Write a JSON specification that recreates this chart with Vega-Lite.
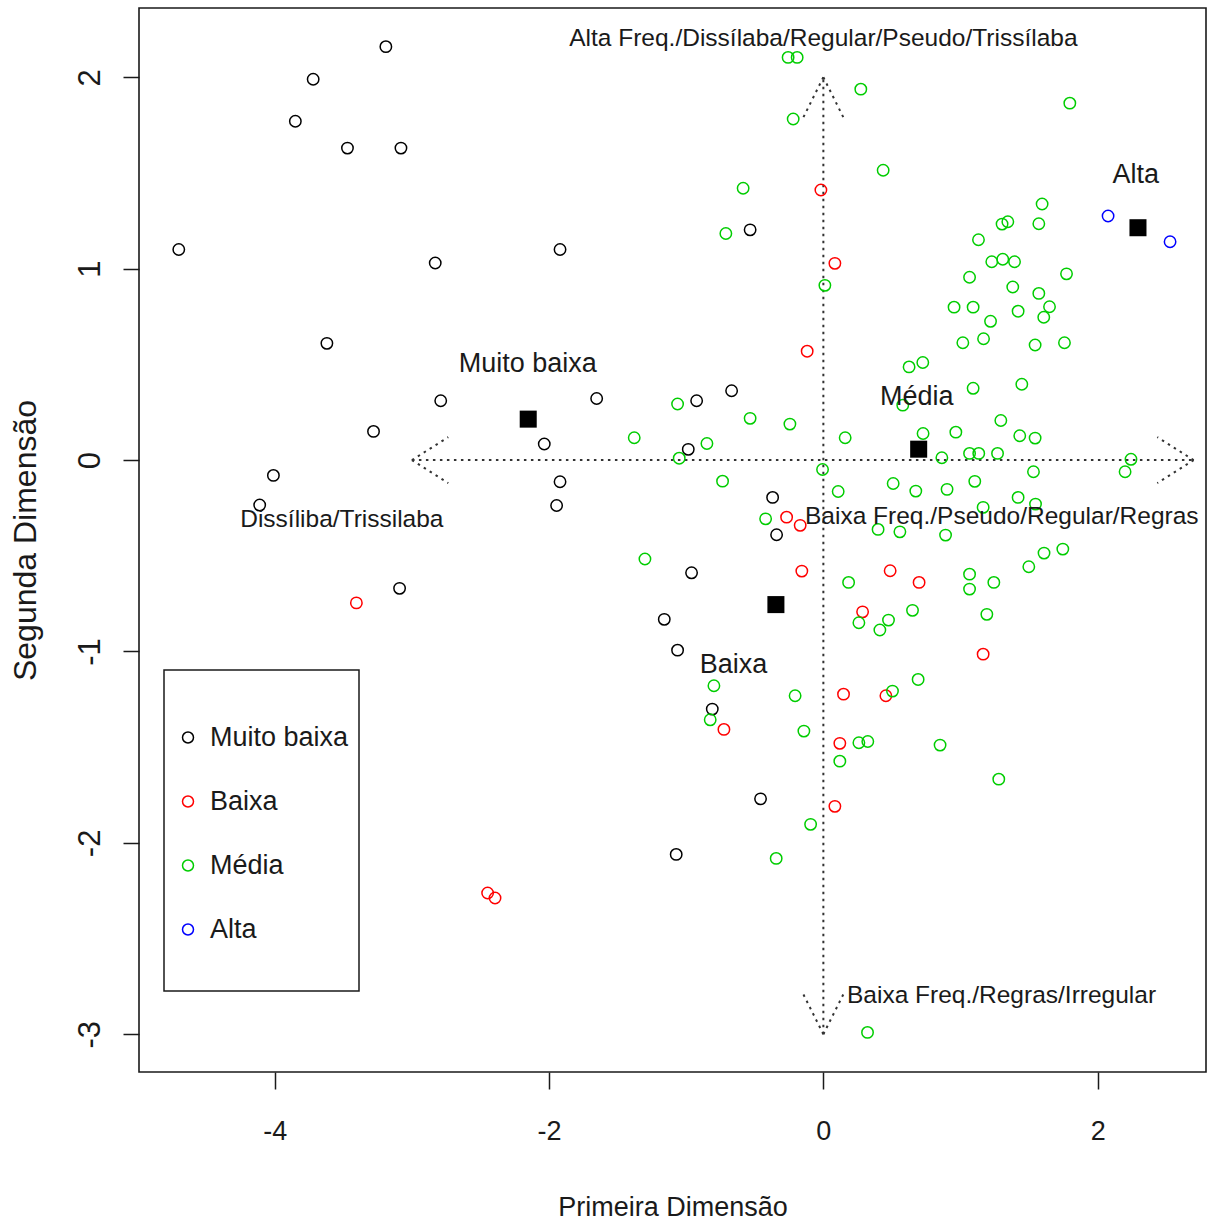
{
  "$schema": "https://vega.github.io/schema/vega-lite/v6.json",
  "width": 1067,
  "height": 1064,
  "autosize": {"type": "none"},
  "padding": {"left": 139, "top": 8, "right": 5, "bottom": 150},
  "background": "white",
  "config": {
    "font": "Liberation Sans",
    "view": {"stroke": "#1a1a1a", "strokeWidth": 1.6},
    "axis": {
      "grid": false,
      "domain": false,
      "tickSize": 17,
      "tickWidth": 1.5,
      "tickColor": "#1a1a1a",
      "labelColor": "#1a1a1a",
      "titleColor": "#1a1a1a",
      "titleFontWeight": "normal",
      "labelFlush": false,
      "labelOverlap": false,
      "labelExpr": "toString(datum.value)"
    },
    "legend": {"strokeWidth": 1.5}
  },
  "datasets": {
    "setas": [
      {"x": -3, "y": 0, "x2": 2.7, "y2": 0},
      {"x": 0, "y": -3, "x2": 0, "y2": 2},
      {"x": -3, "y": 0, "x2": -2.735, "y2": 0.12},
      {"x": -3, "y": 0, "x2": -2.735, "y2": -0.12},
      {"x": 2.7, "y": 0, "x2": 2.435, "y2": 0.12},
      {"x": 2.7, "y": 0, "x2": 2.435, "y2": -0.12},
      {"x": 0, "y": 2, "x2": -0.15, "y2": 1.785},
      {"x": 0, "y": 2, "x2": 0.15, "y2": 1.785},
      {"x": 0, "y": -3, "x2": -0.15, "y2": -2.785},
      {"x": 0, "y": -3, "x2": 0.15, "y2": -2.785}
    ],
    "pontos": [
      {"x": -3.19, "y": 2.16, "grupo": "Muito baixa"},
      {"x": -3.72, "y": 1.99, "grupo": "Muito baixa"},
      {"x": -3.85, "y": 1.77, "grupo": "Muito baixa"},
      {"x": -3.47, "y": 1.63, "grupo": "Muito baixa"},
      {"x": -3.08, "y": 1.63, "grupo": "Muito baixa"},
      {"x": -4.70, "y": 1.10, "grupo": "Muito baixa"},
      {"x": -2.83, "y": 1.03, "grupo": "Muito baixa"},
      {"x": -1.92, "y": 1.10, "grupo": "Muito baixa"},
      {"x": -3.62, "y": 0.61, "grupo": "Muito baixa"},
      {"x": -2.79, "y": 0.31, "grupo": "Muito baixa"},
      {"x": -3.28, "y": 0.15, "grupo": "Muito baixa"},
      {"x": -4.01, "y": -0.08, "grupo": "Muito baixa"},
      {"x": -4.11, "y": -0.235, "grupo": "Muito baixa"},
      {"x": -2.035, "y": 0.084, "grupo": "Muito baixa"},
      {"x": -1.92, "y": -0.113, "grupo": "Muito baixa"},
      {"x": -1.945, "y": -0.237, "grupo": "Muito baixa"},
      {"x": -3.09, "y": -0.67, "grupo": "Muito baixa"},
      {"x": -1.653, "y": 0.322, "grupo": "Muito baixa"},
      {"x": -0.924, "y": 0.31, "grupo": "Muito baixa"},
      {"x": -0.669, "y": 0.362, "grupo": "Muito baixa"},
      {"x": -0.985, "y": 0.056, "grupo": "Muito baixa"},
      {"x": -0.534, "y": 1.203, "grupo": "Muito baixa"},
      {"x": -0.37, "y": -0.195, "grupo": "Muito baixa"},
      {"x": -0.341, "y": -0.39, "grupo": "Muito baixa"},
      {"x": -0.961, "y": -0.589, "grupo": "Muito baixa"},
      {"x": -1.16, "y": -0.832, "grupo": "Muito baixa"},
      {"x": -1.063, "y": -0.993, "grupo": "Muito baixa"},
      {"x": -0.81, "y": -1.301, "grupo": "Muito baixa"},
      {"x": -0.458, "y": -1.77, "grupo": "Muito baixa"},
      {"x": -1.073, "y": -2.06, "grupo": "Muito baixa"},
      {"x": -0.018, "y": 1.411, "grupo": "Baixa"},
      {"x": 0.084, "y": 1.028, "grupo": "Baixa"},
      {"x": -0.118, "y": 0.569, "grupo": "Baixa"},
      {"x": -0.268, "y": -0.298, "grupo": "Baixa"},
      {"x": -0.169, "y": -0.341, "grupo": "Baixa"},
      {"x": -0.157, "y": -0.58, "grupo": "Baixa"},
      {"x": 0.487, "y": -0.578, "grupo": "Baixa"},
      {"x": 0.698, "y": -0.639, "grupo": "Baixa"},
      {"x": 0.286, "y": -0.793, "grupo": "Baixa"},
      {"x": 1.165, "y": -1.014, "grupo": "Baixa"},
      {"x": 0.456, "y": -1.231, "grupo": "Baixa"},
      {"x": 0.147, "y": -1.223, "grupo": "Baixa"},
      {"x": -0.725, "y": -1.407, "grupo": "Baixa"},
      {"x": 0.12, "y": -1.48, "grupo": "Baixa"},
      {"x": 0.084, "y": -1.809, "grupo": "Baixa"},
      {"x": -3.405, "y": -0.746, "grupo": "Baixa"},
      {"x": -2.448, "y": -2.262, "grupo": "Baixa"},
      {"x": -2.394, "y": -2.288, "grupo": "Baixa"},
      {"x": 2.076, "y": 1.275, "grupo": "Alta"},
      {"x": 2.528, "y": 1.141, "grupo": "Alta"},
      {"x": -0.257, "y": 2.104, "grupo": "Média"},
      {"x": -0.191, "y": 2.104, "grupo": "Média"},
      {"x": 0.273, "y": 1.938, "grupo": "Média"},
      {"x": -0.22, "y": 1.782, "grupo": "Média"},
      {"x": 0.436, "y": 1.514, "grupo": "Média"},
      {"x": -0.585, "y": 1.42, "grupo": "Média"},
      {"x": -0.711, "y": 1.184, "grupo": "Média"},
      {"x": 0.011, "y": 0.913, "grupo": "Média"},
      {"x": 1.797, "y": 1.865, "grupo": "Média"},
      {"x": 1.595, "y": 1.338, "grupo": "Média"},
      {"x": 1.303, "y": 1.233, "grupo": "Média"},
      {"x": 1.345, "y": 1.245, "grupo": "Média"},
      {"x": 1.571, "y": 1.235, "grupo": "Média"},
      {"x": 1.131, "y": 1.151, "grupo": "Média"},
      {"x": 1.228, "y": 1.036, "grupo": "Média"},
      {"x": 1.308, "y": 1.049, "grupo": "Média"},
      {"x": 1.394, "y": 1.036, "grupo": "Média"},
      {"x": 1.773, "y": 0.973, "grupo": "Média"},
      {"x": 1.066, "y": 0.955, "grupo": "Média"},
      {"x": 1.381, "y": 0.904, "grupo": "Média"},
      {"x": 1.571, "y": 0.871, "grupo": "Média"},
      {"x": 0.953, "y": 0.799, "grupo": "Média"},
      {"x": 1.092, "y": 0.799, "grupo": "Média"},
      {"x": 1.42, "y": 0.778, "grupo": "Média"},
      {"x": 1.649, "y": 0.801, "grupo": "Média"},
      {"x": 1.607, "y": 0.746, "grupo": "Média"},
      {"x": 1.219, "y": 0.725, "grupo": "Média"},
      {"x": 1.017, "y": 0.613, "grupo": "Média"},
      {"x": 1.168, "y": 0.634, "grupo": "Média"},
      {"x": 1.544, "y": 0.601, "grupo": "Média"},
      {"x": 1.758, "y": 0.613, "grupo": "Média"},
      {"x": 0.625, "y": 0.487, "grupo": "Média"},
      {"x": 0.725, "y": 0.51, "grupo": "Média"},
      {"x": 1.092, "y": 0.375, "grupo": "Média"},
      {"x": 1.447, "y": 0.396, "grupo": "Média"},
      {"x": 1.294, "y": 0.207, "grupo": "Média"},
      {"x": 0.727, "y": 0.139, "grupo": "Média"},
      {"x": 0.966, "y": 0.146, "grupo": "Média"},
      {"x": 1.432, "y": 0.127, "grupo": "Média"},
      {"x": 1.544, "y": 0.115, "grupo": "Média"},
      {"x": 0.864, "y": 0.012, "grupo": "Média"},
      {"x": 1.066, "y": 0.035, "grupo": "Média"},
      {"x": 1.133, "y": 0.035, "grupo": "Média"},
      {"x": 1.27, "y": 0.035, "grupo": "Média"},
      {"x": 2.243, "y": 0.004, "grupo": "Média"},
      {"x": 2.2, "y": -0.061, "grupo": "Média"},
      {"x": 1.532, "y": -0.061, "grupo": "Média"},
      {"x": 1.104, "y": -0.111, "grupo": "Média"},
      {"x": 0.674, "y": -0.162, "grupo": "Média"},
      {"x": 0.902, "y": -0.153, "grupo": "Média"},
      {"x": 1.42, "y": -0.195, "grupo": "Média"},
      {"x": 1.547, "y": -0.23, "grupo": "Média"},
      {"x": 1.165, "y": -0.247, "grupo": "Média"},
      {"x": 0.558, "y": -0.375, "grupo": "Média"},
      {"x": 0.891, "y": -0.392, "grupo": "Média"},
      {"x": 1.746, "y": -0.465, "grupo": "Média"},
      {"x": 1.609, "y": -0.486, "grupo": "Média"},
      {"x": 1.498, "y": -0.557, "grupo": "Média"},
      {"x": 1.066, "y": -0.596, "grupo": "Média"},
      {"x": 1.066, "y": -0.674, "grupo": "Média"},
      {"x": 1.243, "y": -0.639, "grupo": "Média"},
      {"x": 0.65, "y": -0.785, "grupo": "Média"},
      {"x": 1.192, "y": -0.806, "grupo": "Média"},
      {"x": -1.063, "y": 0.293, "grupo": "Média"},
      {"x": -1.379, "y": 0.117, "grupo": "Média"},
      {"x": -0.534, "y": 0.218, "grupo": "Média"},
      {"x": -0.244, "y": 0.188, "grupo": "Média"},
      {"x": 0.159, "y": 0.117, "grupo": "Média"},
      {"x": -0.849, "y": 0.087, "grupo": "Média"},
      {"x": -1.051, "y": 0.01, "grupo": "Média"},
      {"x": -0.006, "y": -0.049, "grupo": "Média"},
      {"x": -0.735, "y": -0.11, "grupo": "Média"},
      {"x": 0.108, "y": -0.164, "grupo": "Média"},
      {"x": 0.509, "y": -0.122, "grupo": "Média"},
      {"x": -0.421, "y": -0.307, "grupo": "Média"},
      {"x": 0.399, "y": -0.362, "grupo": "Média"},
      {"x": -1.301, "y": -0.517, "grupo": "Média"},
      {"x": 0.184, "y": -0.639, "grupo": "Média"},
      {"x": 0.259, "y": -0.85, "grupo": "Média"},
      {"x": 0.475, "y": -0.836, "grupo": "Média"},
      {"x": 0.412, "y": -0.888, "grupo": "Média"},
      {"x": 0.691, "y": -1.146, "grupo": "Média"},
      {"x": 0.504, "y": -1.207, "grupo": "Média"},
      {"x": -0.206, "y": -1.231, "grupo": "Média"},
      {"x": -0.798, "y": -1.179, "grupo": "Média"},
      {"x": -0.825, "y": -1.357, "grupo": "Média"},
      {"x": -0.142, "y": -1.416, "grupo": "Média"},
      {"x": 0.259, "y": -1.477, "grupo": "Média"},
      {"x": 0.324, "y": -1.47, "grupo": "Média"},
      {"x": 0.851, "y": -1.489, "grupo": "Média"},
      {"x": 0.12, "y": -1.573, "grupo": "Média"},
      {"x": 1.279, "y": -1.667, "grupo": "Média"},
      {"x": -0.093, "y": -1.903, "grupo": "Média"},
      {"x": -0.344, "y": -2.081, "grupo": "Média"},
      {"x": 0.322, "y": -2.99, "grupo": "Média"},
      {"x": 0.579, "y": 0.287, "grupo": "Média"}
    ],
    "centroides": [
      {"grupo": "Muito baixa", "x": -2.152, "y": 0.214},
      {"grupo": "Baixa", "x": -0.346, "y": -0.755},
      {"grupo": "Média", "x": 0.695, "y": 0.057},
      {"grupo": "Alta", "x": 2.294, "y": 1.214}
    ],
    "grupos": [
      {"rotulo": "Alta", "x": 2.278, "y": 1.49},
      {"rotulo": "Muito baixa", "x": -2.156, "y": 0.5},
      {"rotulo": "Média", "x": 0.681, "y": 0.329},
      {"rotulo": "Baixa", "x": -0.655, "y": -1.071}
    ],
    "polos": [
      {"rotulo": "Alta Freq./Dissílaba/Regular/Pseudo/Trissílaba", "x": 0.0, "y": 2.2},
      {"rotulo": "Dissíliba/Trissilaba", "x": -3.511, "y": -0.313},
      {"rotulo": "Baixa Freq./Pseudo/Regular/Regras", "x": 1.301, "y": -0.298},
      {"rotulo": "Baixa Freq./Regras/Irregular", "x": 1.299, "y": -2.8}
    ]
  },
  "encoding": {
    "x": {
      "field": "x",
      "type": "quantitative",
      "scale": {"domain": [-4.99, 2.79], "nice": false, "zero": false},
      "axis": {
        "values": [-4, -2, 0, 2],
        "title": "Primeira Dimensão",
        "labelFontSize": 27,
        "labelPadding": 29,
        "titleFontSize": 27,
        "titlePadding": 50
      }
    },
    "y": {
      "field": "y",
      "type": "quantitative",
      "scale": {"domain": [-3.197, 2.362], "nice": false, "zero": false},
      "axis": {
        "values": [-3, -2, -1, 0, 1, 2],
        "title": "Segunda Dimensão",
        "tickSize": 16,
        "labelAngle": -90,
        "labelAlign": "center",
        "labelBaseline": "bottom",
        "labelFontSize": 31,
        "labelPadding": 17,
        "titleFontSize": 32,
        "titlePadding": 32
      }
    }
  },
  "layer": [
    {
      "data": {"name": "setas"},
      "mark": {"type": "rule", "color": "#333333", "strokeWidth": 2, "strokeDash": [2.5, 4.5]},
      "encoding": {"x2": {"field": "x2"}, "y2": {"field": "y2"}}
    },
    {
      "data": {"name": "pontos"},
      "mark": {"type": "point", "shape": "circle", "filled": false, "size": 130, "strokeWidth": 1.5, "opacity": 1},
      "encoding": {
        "color": {
          "field": "grupo",
          "type": "nominal",
          "scale": {
            "domain": ["Muito baixa", "Baixa", "Média", "Alta"],
            "range": ["#000000", "#FF0000", "#00CD00", "#0000FF"]
          },
          "legend": {
            "orient": "none",
            "legendX": 25,
            "legendY": 662,
            "title": " ",
            "titleFontSize": 27,
            "titlePadding": 16.5,
            "padding": 10.5,
            "strokeColor": "#1a1a1a",
            "labelFontSize": 27,
            "labelLimit": 400,
            "labelColor": "#1a1a1a",
            "labelOffset": 8.5,
            "rowPadding": -37,
            "symbolSize": 121,
            "symbolStrokeWidth": 1.5,
            "symbolType": "M0,0M0,-8.55M0,8.55M-1,0A1,1,0,1,0,1,0A1,1,0,1,0,-1,0Z"
          }
        }
      }
    },
    {
      "data": {"name": "centroides"},
      "mark": {"type": "square", "size": 290, "color": "#000000", "opacity": 1}
    },
    {
      "data": {"name": "grupos"},
      "mark": {"type": "text", "fontSize": 27, "color": "#1a1a1a"},
      "encoding": {"text": {"field": "rotulo"}}
    },
    {
      "data": {"name": "polos"},
      "mark": {"type": "text", "fontSize": 24.5, "color": "#1a1a1a"},
      "encoding": {"text": {"field": "rotulo"}}
    }
  ]
}
